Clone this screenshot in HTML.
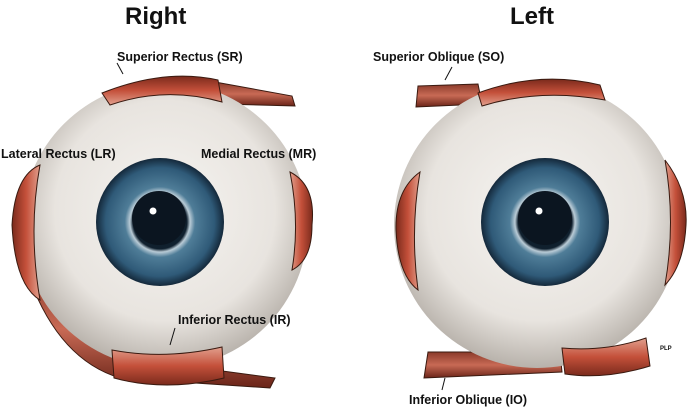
<!DOCTYPE html>
<html><head><style>
html,body{margin:0;padding:0;background:#fff;}
svg{display:block}
text{font-family:"Liberation Sans",Arial,sans-serif;font-weight:bold;fill:#111}
</style></head><body>
<svg width="688" height="410" viewBox="0 0 688 410" xmlns="http://www.w3.org/2000/svg">
<defs>
<radialGradient id="ball" cx="50%" cy="45%" r="55%">
<stop offset="0" stop-color="#f6f4f1"/><stop offset="0.7" stop-color="#e8e4df"/><stop offset="1" stop-color="#b8b2ab"/>
</radialGradient>
<radialGradient id="iris" cx="50%" cy="50%" r="50%">
<stop offset="0" stop-color="#0d1a26"/><stop offset="0.42" stop-color="#10202e"/><stop offset="0.47" stop-color="#b9cbd6"/><stop offset="0.55" stop-color="#4f7d98"/><stop offset="0.85" stop-color="#2f5a78"/><stop offset="1" stop-color="#14283a"/>
</radialGradient>
<linearGradient id="mus" x1="0" y1="0" x2="0" y2="1">
<stop offset="0" stop-color="#7a2a1c"/><stop offset="0.5" stop-color="#c4503a"/><stop offset="1" stop-color="#e2a08e"/>
</linearGradient>
<linearGradient id="musB" x1="0" y1="1" x2="0" y2="0">
<stop offset="0" stop-color="#7a2a1c"/><stop offset="0.5" stop-color="#c4503a"/><stop offset="1" stop-color="#e2a08e"/>
</linearGradient>
<linearGradient id="musH" x1="0" y1="0" x2="1" y2="0">
<stop offset="0" stop-color="#7a2a1c"/><stop offset="0.5" stop-color="#c4503a"/><stop offset="1" stop-color="#e2a08e"/>
</linearGradient>
<linearGradient id="musHr" x1="1" y1="0" x2="0" y2="0">
<stop offset="0" stop-color="#7a2a1c"/><stop offset="0.5" stop-color="#c4503a"/><stop offset="1" stop-color="#e2a08e"/>
</linearGradient>
<linearGradient id="band" x1="0" y1="0" x2="0" y2="1">
<stop offset="0" stop-color="#8a3a2a"/><stop offset="0.5" stop-color="#c86a55"/><stop offset="1" stop-color="#6a2418"/>
</linearGradient>
</defs>

<text x="125" y="24" font-size="24">Right</text>
<text x="510" y="24" font-size="24">Left</text>

<!-- RIGHT EYE -->
<path d="M215,82 L292,96 L295,106 L220,104 Z" fill="url(#band)" stroke="#3a1a10" stroke-width="1"/>
<path d="M30,280 Q60,360 120,378 L270,388 L275,378 L200,368 Q110,355 45,270 Z" fill="url(#band)" stroke="#3a1a10" stroke-width="1"/>
<circle cx="165" cy="225" r="143" fill="url(#ball)"/>
<path d="M102,93 Q165,68 218,80 L222,102 Q165,86 110,105 Z" fill="url(#mus)" stroke="#3a1a10" stroke-width="1"/>
<path d="M112,350 Q165,360 222,347 L224,378 Q165,392 114,378 Z" fill="url(#musB)" stroke="#3a1a10" stroke-width="1"/>
<path d="M40,165 Q15,175 12,225 Q15,285 40,300 Q28,230 40,165 Z" fill="url(#musH)" stroke="#3a1a10" stroke-width="1"/>
<path d="M290,172 Q316,185 312,225 Q312,260 292,270 Q300,222 290,172 Z" fill="url(#musHr)" stroke="#3a1a10" stroke-width="1"/>
<circle cx="160" cy="222" r="64" fill="url(#iris)"/>
<circle cx="159" cy="218" r="27" fill="#0b1520"/>
<circle cx="153" cy="211" r="3.5" fill="#fff"/>

<!-- LEFT EYE -->
<path d="M418,86 L478,84 L482,104 L416,107 Z" fill="url(#band)" stroke="#3a1a10" stroke-width="1"/>
<path d="M428,352 L560,352 L562,372 L424,378 Z" fill="url(#band)" stroke="#3a1a10" stroke-width="1"/>
<circle cx="537" cy="225" r="143" fill="url(#ball)"/>
<path d="M478,93 Q540,70 600,85 L605,100 Q540,88 482,106 Z" fill="url(#mus)" stroke="#3a1a10" stroke-width="1"/>
<path d="M562,348 Q605,352 646,338 L650,366 Q605,380 565,374 Z" fill="url(#musB)" stroke="#3a1a10" stroke-width="1"/>
<path d="M420,172 Q395,190 396,230 Q398,275 418,290 Q410,230 420,172 Z" fill="url(#musH)" stroke="#3a1a10" stroke-width="1"/>
<path d="M665,160 Q688,190 686,225 Q684,265 665,285 Q676,222 665,160 Z" fill="url(#musHr)" stroke="#3a1a10" stroke-width="1"/>
<circle cx="545" cy="222" r="64" fill="url(#iris)"/>
<circle cx="545" cy="218" r="27" fill="#0b1520"/>
<circle cx="539" cy="211" r="3.5" fill="#fff"/>

<!-- Labels -->
<text x="117" y="61" font-size="12.5">Superior Rectus (SR)</text>
<line x1="117" y1="63" x2="123" y2="74" stroke="#111" stroke-width="1"/>
<text x="1" y="158" font-size="12.5">Lateral Rectus (LR)</text>
<text x="201" y="158" font-size="12.5">Medial Rectus (MR)</text>
<text x="178" y="324" font-size="12.5">Inferior Rectus (IR)</text>
<line x1="175" y1="328" x2="170" y2="345" stroke="#111" stroke-width="1"/>
<text x="373" y="61" font-size="12.5">Superior Oblique (SO)</text>
<line x1="452" y1="67" x2="445" y2="80" stroke="#111" stroke-width="1"/>
<text x="409" y="404" font-size="12.5">Inferior Oblique (IO)</text>
<line x1="442" y1="390" x2="445" y2="378" stroke="#111" stroke-width="1"/>
<text x="660" y="350" font-size="6" font-weight="normal">PLP</text>
</svg>
</body></html>
